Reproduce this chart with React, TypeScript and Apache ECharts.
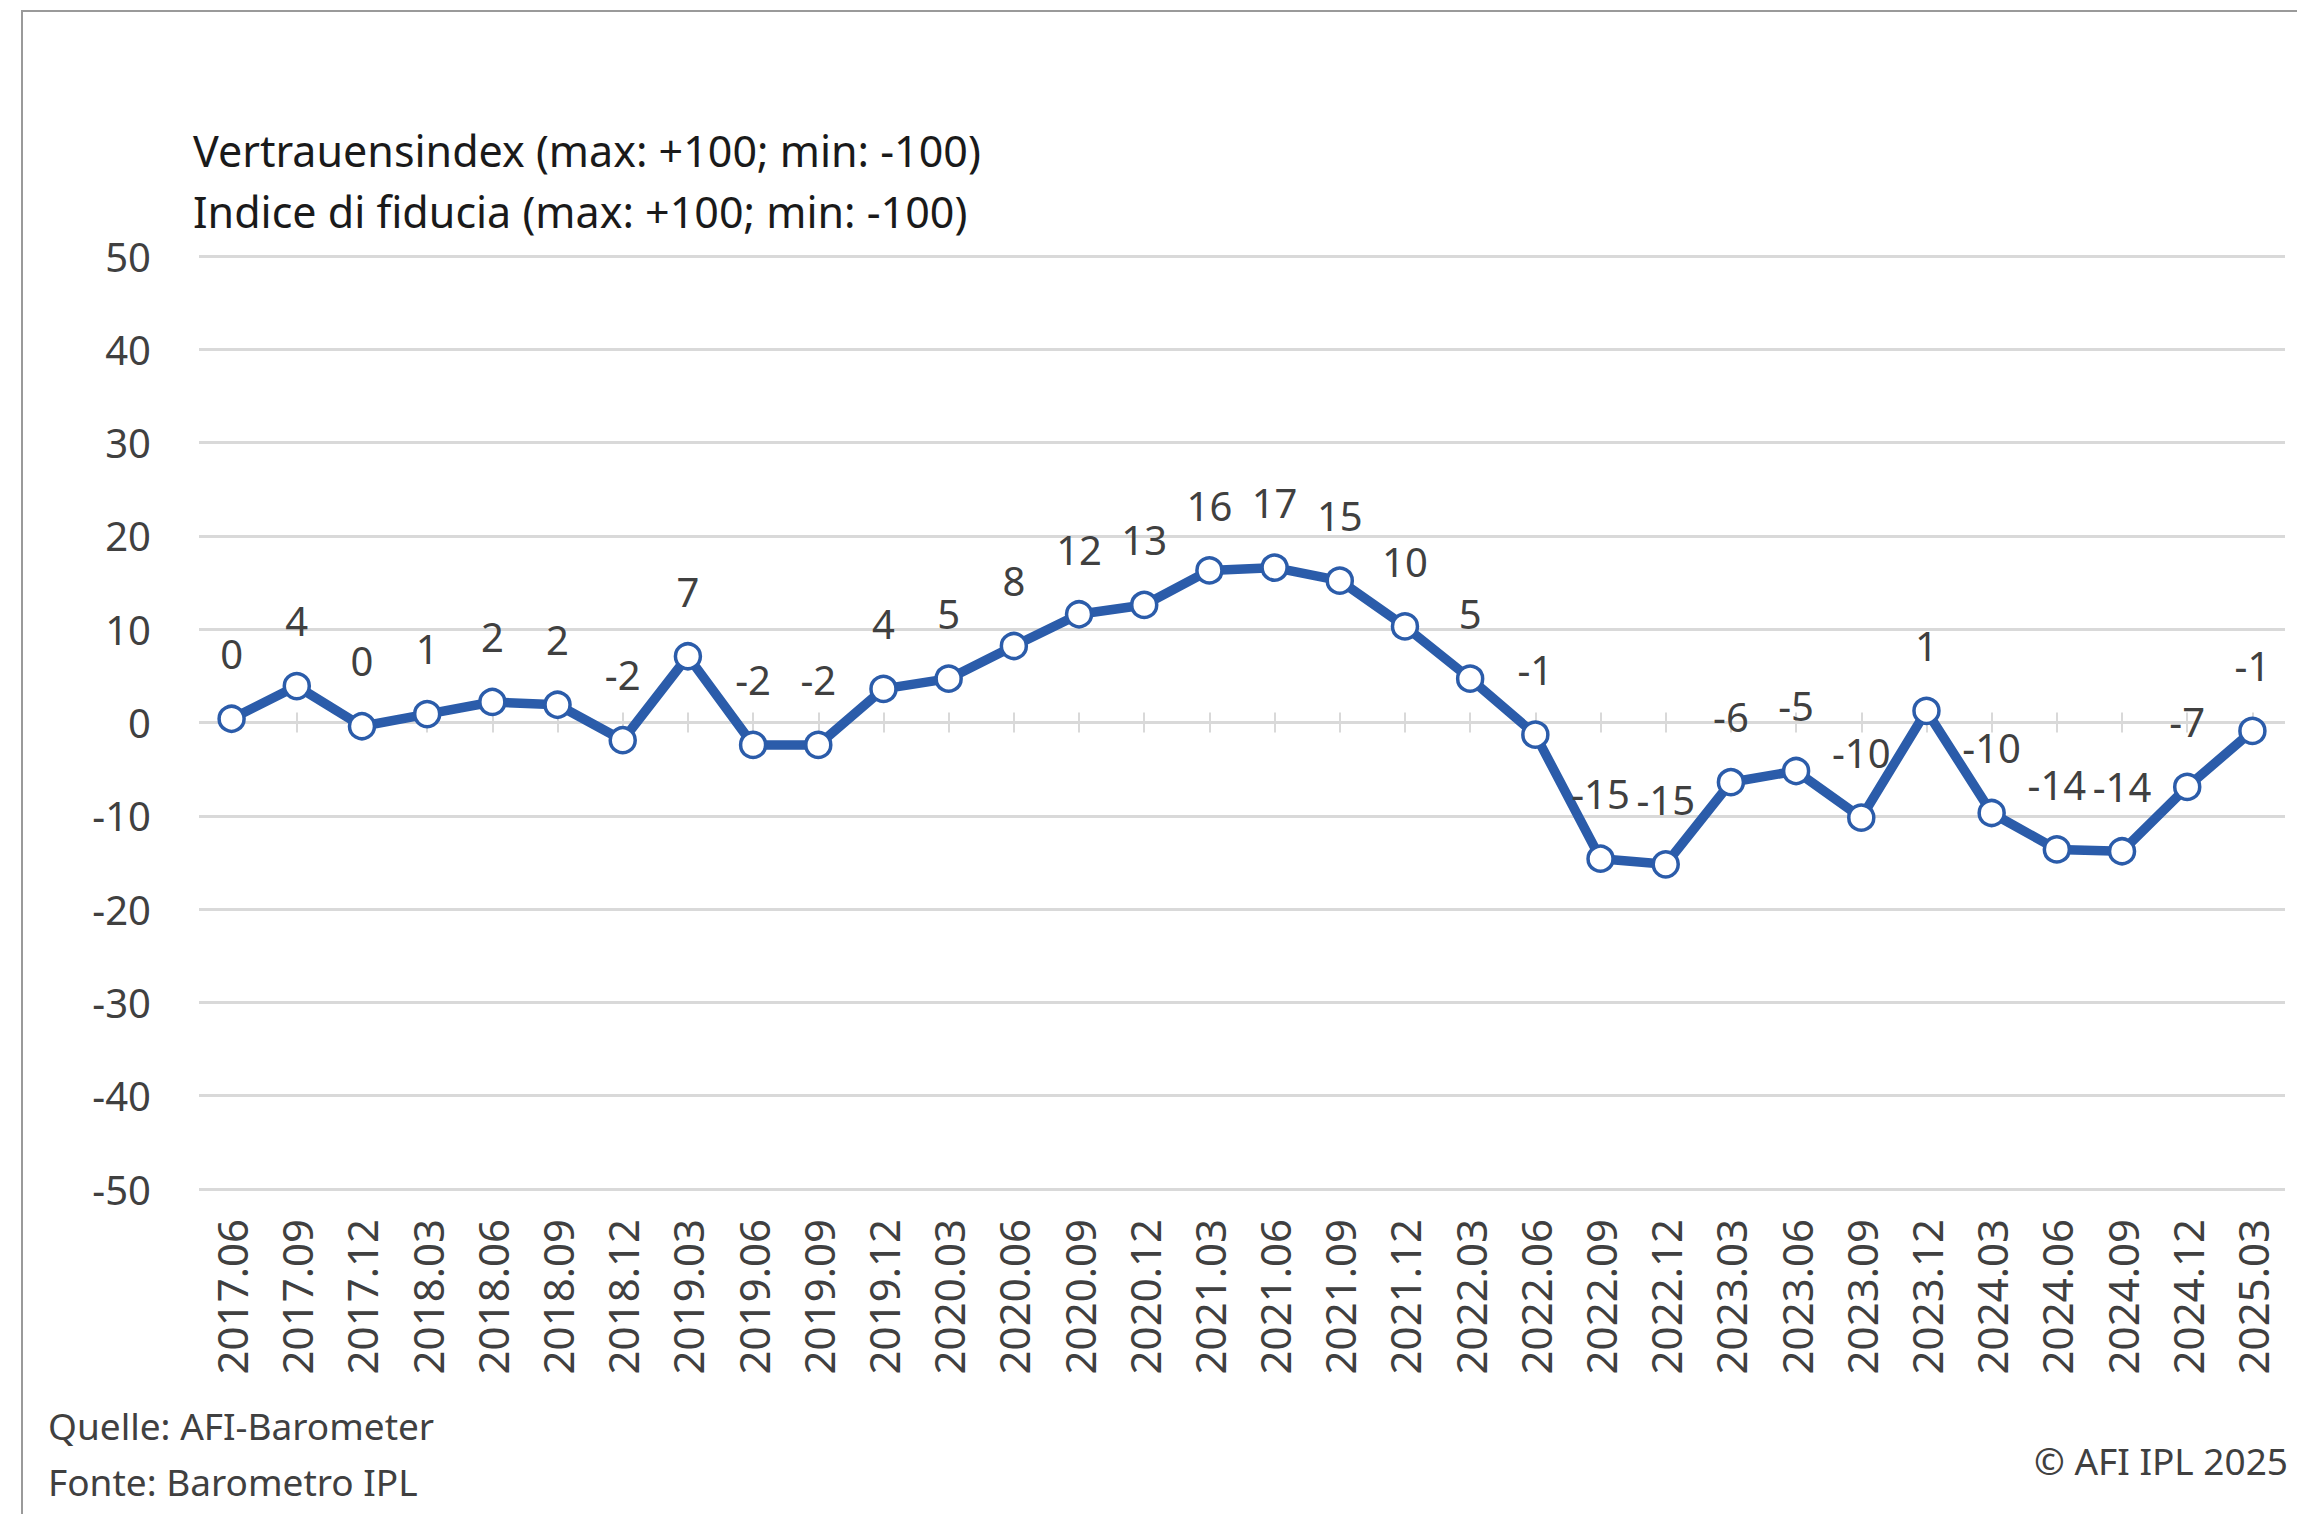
import React, { useEffect, useRef } from "react";
import * as echarts from "echarts";

const categories = [
  "2017.06", "2017.09", "2017.12",
  "2018.03", "2018.06", "2018.09", "2018.12",
  "2019.03", "2019.06", "2019.09", "2019.12",
  "2020.03", "2020.06", "2020.09", "2020.12",
  "2021.03", "2021.06", "2021.09", "2021.12",
  "2022.03", "2022.06", "2022.09", "2022.12",
  "2023.03", "2023.06", "2023.09", "2023.12",
  "2024.03", "2024.06", "2024.09", "2024.12",
  "2025.03",
];

const indexValues = [
  0.4, 3.9, -0.4,
  0.9, 2.2, 1.9, -1.9,
  7.1, -2.4, -2.4, 3.6,
  4.7, 8.2, 11.6, 12.6,
  16.3, 16.6, 15.2, 10.3,
  4.7, -1.3, -14.6, -15.2,
  -6.4, -5.2, -10.2, 1.25,
  -9.7, -13.6, -13.8, -6.9,
  -0.9,
];

const yMin = -50;
const yMax = 50;
const yStep = 10;

const titleLines = [
  "Vertrauensindex (max: +100; min: -100)",
  "Indice di fiducia (max: +100; min: -100)",
];
const sourceLines = ["Quelle: AFI-Barometer", "Fonte: Barometro IPL"];
const copyright = "© AFI IPL 2025";

const FONT = "'Noto Sans', sans-serif";
const BLUE = "#2b5caa";
const GRID = "#d9d9d9";
const TEXT = "#404040";

export default function App() {
  const ref = useRef<HTMLDivElement>(null);

  useEffect(() => {
    document.body.style.margin = "0";
    if (!ref.current) return;
    const chart = echarts.init(ref.current, undefined, { renderer: "svg" });

    const tickAxis = (inside: boolean) => ({
      type: "category",
      data: categories,
      position: "bottom",
      boundaryGap: true,
      axisLine: { show: false, onZero: true, onZeroAxisIndex: 0 },
      axisTick: {
        show: true,
        alignWithLabel: true,
        inside,
        length: 10,
        lineStyle: { color: GRID, width: 2 },
      },
      axisLabel: { show: false },
      splitLine: { show: false },
    });

    chart.setOption({
      animation: false,
      backgroundColor: "#ffffff",
      textStyle: { fontFamily: FONT },
      grid: { left: 199, right: 12, top: 256, bottom: 325, containLabel: false },
      xAxis: [
        {
          type: "category",
          data: categories,
          position: "bottom",
          boundaryGap: true,
          axisLine: { show: false, onZero: false },
          axisTick: { show: false },
          axisLabel: {
            rotate: 90,
            margin: 30,
            fontSize: 42,
            color: TEXT,
            fontFamily: FONT,
            interval: 0,
          },
          splitLine: { show: false },
        },
        tickAxis(false),
        tickAxis(true),
      ],
      yAxis: {
        type: "value",
        min: yMin,
        max: yMax,
        interval: yStep,
        axisLine: { show: false },
        axisTick: { show: false },
        axisLabel: { fontSize: 40, color: TEXT, margin: 48, fontFamily: FONT },
        splitLine: { show: true, lineStyle: { color: GRID, width: 3 } },
      },
      series: [
        {
          type: "line",
          xAxisIndex: 0,
          data: indexValues,
          symbol: "circle",
          symbolSize: 25,
          showAllSymbol: true,
          lineStyle: { color: BLUE, width: 9.5 },
          itemStyle: { color: "#ffffff", borderColor: BLUE, borderWidth: 3.5 },
          label: {
            show: true,
            position: "top",
            distance: 31,
            fontSize: 40,
            color: TEXT,
            fontFamily: FONT,
            formatter: (p: any) => String(Math.round(p.value)),
          },
          z: 5,
        },
      ],
      graphic: [
        {
          type: "rect",
          shape: { x: 22, y: 11, width: 2400, height: 1600 },
          style: { fill: "none", stroke: "#9a9a9a", lineWidth: 2 },
          silent: true,
          z: -1,
        },
        {
          type: "text",
          x: 193,
          y: 150,
          style: {
            text: titleLines[0],
            fontSize: 43,
            fontFamily: FONT,
            fill: "#1a1a1a",
            verticalAlign: "middle",
          },
        },
        {
          type: "text",
          x: 193,
          y: 211,
          style: {
            text: titleLines[1],
            fontSize: 43,
            fontFamily: FONT,
            fill: "#1a1a1a",
            verticalAlign: "middle",
          },
        },
        {
          type: "text",
          x: 48,
          y: 1425,
          style: {
            text: sourceLines[0],
            fontSize: 37,
            fontFamily: FONT,
            fill: TEXT,
            verticalAlign: "middle",
          },
        },
        {
          type: "text",
          x: 48,
          y: 1481,
          style: {
            text: sourceLines[1],
            fontSize: 37,
            fontFamily: FONT,
            fill: TEXT,
            verticalAlign: "middle",
          },
        },
        {
          type: "text",
          x: 2288,
          y: 1460,
          style: {
            text: copyright,
            fontSize: 37,
            fontFamily: FONT,
            fill: TEXT,
            align: "right",
            verticalAlign: "middle",
          },
        },
      ],
    });

    return () => chart.dispose();
  }, []);

  return <div ref={ref} style={{ width: 2297, height: 1514 }} />;
}
